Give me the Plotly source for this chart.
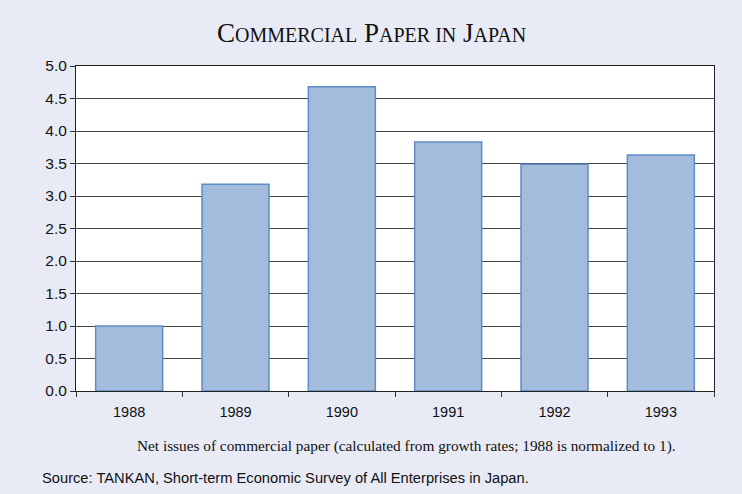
import plotly.graph_objects as go

years = ["1988", "1989", "1990", "1991", "1992", "1993"]
net_issues = [1.0, 3.18, 4.68, 3.83, 3.49, 3.63]
y_ticks = [0, 0.5, 1.0, 1.5, 2.0, 2.5, 3.0, 3.5, 4.0, 4.5, 5.0]

bg = "#E8EBF5"

W, H = 742, 494
M_L, M_R, M_T, M_B = 76, 28, 66, 103
plot_w = W - M_L - M_R
plot_h = H - M_T - M_B


def py(y_px):
    """Pixel row -> paper y coordinate."""
    return (H - M_B - y_px) / plot_h


def px(x_px):
    """Pixel column -> paper x coordinate."""
    return (x_px - M_L) / plot_w


fig = go.Figure(
    go.Bar(
        x=years,
        y=net_issues,
        width=0.63,
        marker=dict(color="#A4BCDC", line=dict(color="#5E8CC9", width=1.5)),
    )
)

title_html = (
    "C<span style='font-size:20px'>OMMERCIAL</span> "
    "P<span style='font-size:20px'>APER IN</span> "
    "J<span style='font-size:20px'>APAN</span>"
)

fig.update_layout(
    width=W,
    height=H,
    paper_bgcolor=bg,
    plot_bgcolor="white",
    margin=dict(l=M_L, r=M_R, t=M_T, b=M_B),
    showlegend=False,
    annotations=[
        dict(text=title_html, x=px(W / 2 + 0.5), y=py(33), xref="paper", yref="paper",
             yanchor="middle", showarrow=False,
             font=dict(family="Liberation Serif", size=27, color="#111")),
        dict(text="Net issues of commercial paper (calculated from growth rates; 1988 is normalized to 1).",
             x=px(406), y=py(446), xref="paper", yref="paper", yanchor="middle",
             showarrow=False,
             font=dict(family="Liberation Serif", size=15.3, color="#111")),
        dict(text="Source: TANKAN, Short-term Economic Survey of All Enterprises in Japan.",
             x=px(40), y=py(478), xref="paper", yref="paper", xanchor="left",
             yanchor="middle", showarrow=False,
             font=dict(family="Liberation Sans", size=14.7, color="#111")),
    ],
)

fig.update_xaxes(
    type="category",
    tickson="boundaries",
    ticks="outside",
    ticklen=5,
    tickcolor="#333",
    ticklabelstandoff=8,
    showline=True,
    linecolor="#222",
    linewidth=1,
    mirror=True,
    showgrid=False,
    tickfont=dict(family="Liberation Sans", size=14.5, color="#111"),
)
fig.update_yaxes(
    range=[0, 5],
    tickvals=y_ticks,
    tickformat=".1f",
    ticks="outside",
    ticklen=5,
    tickcolor="#333",
    showline=True,
    linecolor="#222",
    linewidth=1,
    mirror=True,
    showgrid=True,
    gridcolor="#444",
    gridwidth=1,
    zeroline=False,
    tickfont=dict(family="Liberation Sans", size=15.5, color="#111"),
)

fig.write_html("out.html")
